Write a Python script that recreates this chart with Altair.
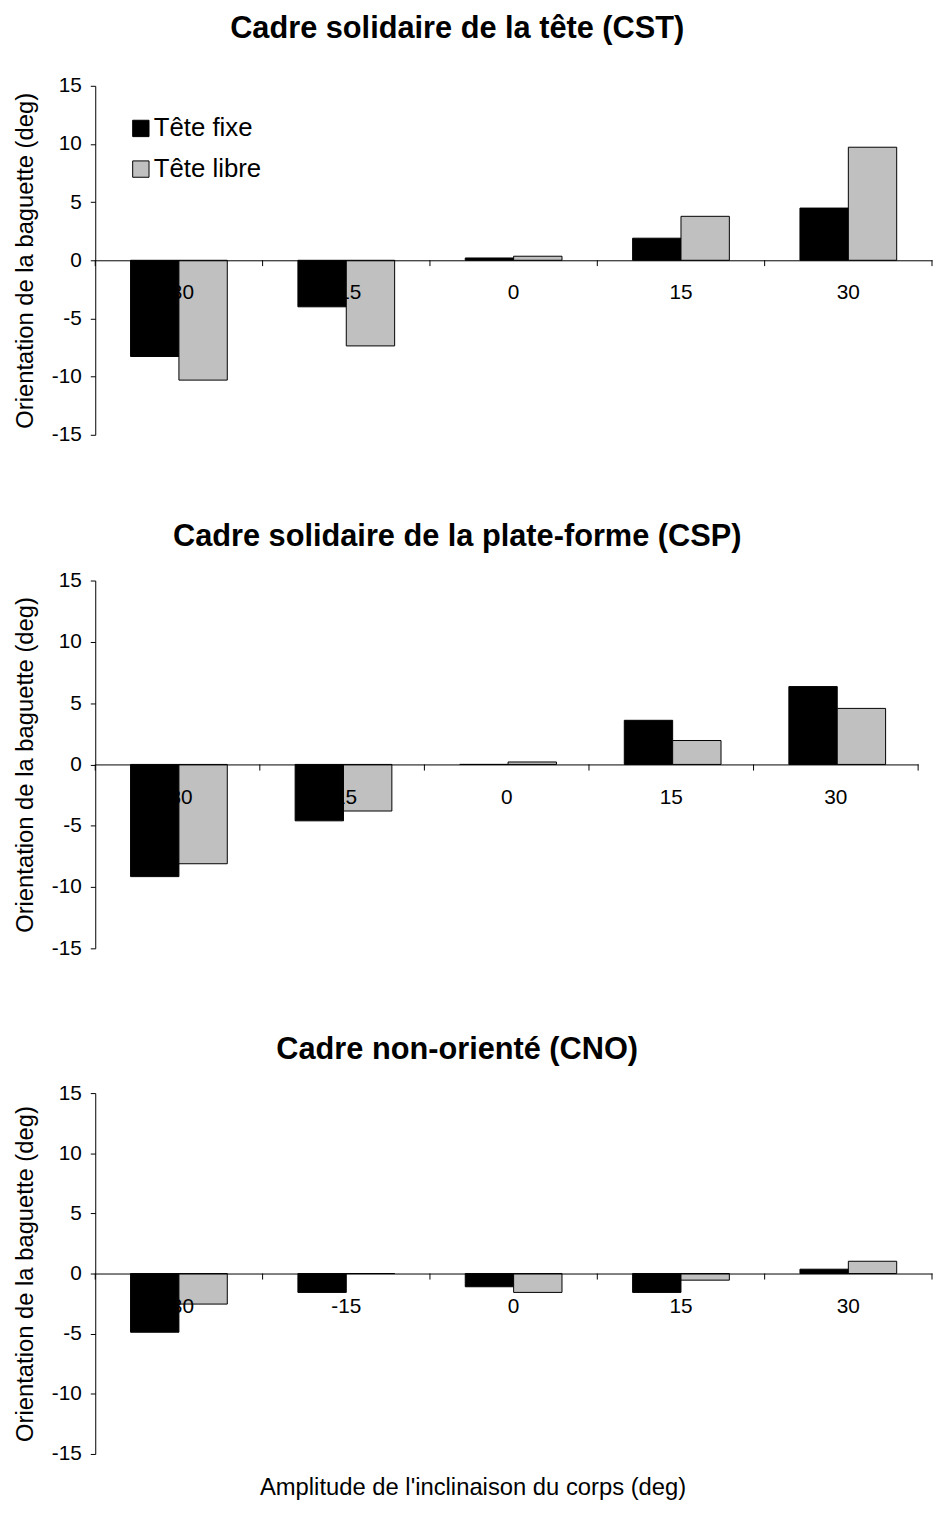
import altair as alt
import pandas as pd

categories = ["-30", "-15", "0", "15", "30"]
series = ["Tête fixe", "Tête libre"]

cst_fixe = [-8.27, -4.0, 0.2, 1.9, 4.49]
cst_libre = [-10.3, -7.36, 0.35, 3.78, 9.72]
csp_fixe = [-9.15, -4.6, 0.0, 3.6, 6.35]
csp_libre = [-8.1, -3.8, 0.2, 1.95, 4.57]
cno_fixe = [-4.88, -1.57, -1.1, -1.57, 0.36]
cno_libre = [-2.54, 0.0, -1.57, -0.55, 1.02]

titles = [
    "Cadre solidaire de la tête (CST)",
    "Cadre solidaire de la plate-forme (CSP)",
    "Cadre non-orienté (CNO)",
]
y_title = "Orientation de la baguette (deg)"
x_title = "Amplitude de l'inclinaison du corps (deg)"
y_ticks = [-15, -10, -5, 0, 5, 10, 15]

FONT = "Liberation Sans"


def make_df(fixe, libre):
    rows = []
    for c, a, b in zip(categories, fixe, libre):
        rows.append({"cat": c, "serie": series[0], "val": a})
        rows.append({"cat": c, "serie": series[1], "val": b})
    return pd.DataFrame(rows)


cat_df = pd.DataFrame({"cat": categories})
last_df = pd.DataFrame({"cat": categories[-1:]})


def panel(fixe, libre, title, width, height, title_offset, title_dy, title_dx,
          show_legend):
    df = make_df(fixe, libre)
    xscale = alt.Scale(domain=categories, paddingInner=0, paddingOuter=0)
    yscale = alt.Scale(domain=[-15, 15], nice=False, zero=False)
    xaxis = alt.Axis(orient="bottom", offset=-height / 2, ticks=False,
                     labelPadding=22, labelFontSize=21, labelAngle=0,
                     labelColor="black", labelFont=FONT, zindex=1,
                     domainColor="black", domainWidth=1, title=None)
    yaxis = alt.Axis(values=y_ticks, grid=False, tickSize=5,
                     tickColor="black", domainColor="black",
                     labelFontSize=21, labelPadding=9, labelColor="black",
                     labelFont=FONT, labelExpr="datum.value + ''",
                     title=y_title, titleFontSize=24,
                     titleFontWeight="normal", titleColor="black",
                     titleFont=FONT, titlePadding=14)
    if show_legend:
        legend = alt.Legend(
            title=None, orient="none", legendX=33, legendY=30,
            symbolType="square", symbolSize=272, symbolStrokeColor="black",
            symbolStrokeWidth=1, labelFontSize=26, labelColor="black",
            labelFont=FONT, rowPadding=15, labelOffset=0,
        )
    else:
        legend = None
    bars = alt.Chart(df).mark_bar(stroke="black", strokeWidth=1).encode(
        x=alt.X("cat:N", sort=categories, scale=xscale, axis=xaxis),
        xOffset=alt.XOffset("serie:N", sort=series,
                            scale=alt.Scale(paddingOuter=0.73, paddingInner=0)),
        y=alt.Y("val:Q", scale=yscale, axis=yaxis),
        color=alt.Color("serie:N",
                        scale=alt.Scale(domain=series, range=["#000000", "#c0c0c0"]),
                        legend=legend),
    )
    ticks = alt.Chart(cat_df).mark_rule(color="black", strokeWidth=1).encode(
        x=alt.X("cat:N", sort=categories, bandPosition=0, scale=xscale, axis=xaxis),
        y=alt.YDatum(0, scale=yscale, axis=yaxis),
        y2=alt.Y2Datum(-0.5),
    )
    end_tick = alt.Chart(last_df).mark_rule(color="black", strokeWidth=1).encode(
        x=alt.X("cat:N", sort=categories, bandPosition=1, scale=xscale, axis=xaxis),
        y=alt.YDatum(0, scale=yscale, axis=yaxis),
        y2=alt.Y2Datum(-0.5),
    )
    return alt.layer(bars, ticks, end_tick).properties(
        width=width, height=height,
        title=alt.TitleParams(title, fontSize=31, fontWeight="bold", font=FONT,
                              color="black", anchor="middle", frame="bounds",
                              offset=title_offset, dy=title_dy, dx=title_dx),
    )


p1 = panel(cst_fixe, cst_libre, titles[0], 844, 352, 25, -5, -16, True)
p2 = panel(csp_fixe, csp_libre, titles[1], 830, 371, 17, 0, -9, False)
p3 = panel(cno_fixe, cno_libre, titles[2], 844, 364, 16, 0, -16, False)

chart = alt.concat(
    p1, p2, p3, columns=1, spacing=77, align="none",
    title=alt.TitleParams(x_title, orient="bottom", fontSize=24, fontWeight="normal",
                          font=FONT, color="black", anchor="middle", offset=12),
).resolve_scale(color="independent", x="independent", y="independent").properties(
    padding={"left": 5, "top": -1, "right": 0, "bottom": 0}
).configure(font=FONT).configure_view(stroke=None)

chart.save("out.html", embed_options={"renderer": "svg", "actions": False})
